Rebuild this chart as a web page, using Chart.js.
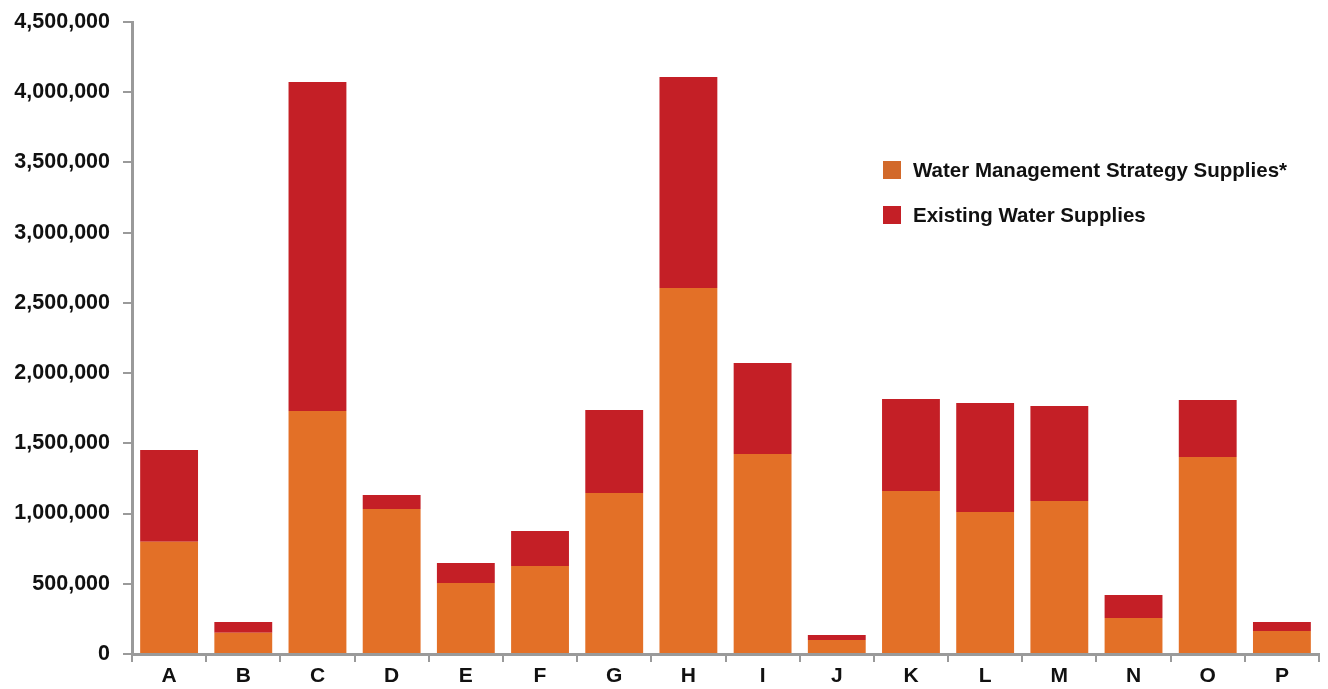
<!DOCTYPE html>
<html>
<head>
<meta charset="utf-8">
<script src="https://cdn.jsdelivr.net/npm/chart.js@4.4.1/dist/chart.umd.min.js"></script>
<style>
  html, body { margin: 0; padding: 0; background: #fff; }
  #wrap { width: 1328px; height: 689px; }
</style>
</head>
<body>
<div id="wrap"><canvas id="supplyChart"></canvas></div>
<script>
const regions = ['A', 'B', 'C', 'D', 'E', 'F', 'G', 'H', 'I', 'J', 'K', 'L', 'M', 'N', 'O', 'P'];
const strategySupplies = [800000, 152000, 1730000, 1032000, 505000, 627000, 1146000, 2606000, 1424000, 100000, 1160000, 1011000, 1089000, 256000, 1403000, 164000];
const existingSupplies = [652000, 76000, 2343000, 100000, 143000, 249000, 591000, 1502000, 648000, 35000, 656000, 776000, 677000, 164000, 405000, 64000];
const yTicks = [0, 500000, 1000000, 1500000, 2000000, 2500000, 3000000, 3500000, 4000000, 4500000];

const fontFamily = '"Liberation Sans", Arial, sans-serif';
const axisGray = '#9a9a9a';

// legend sits inside the plot, top right
const insideLegend = {
    id: 'insideLegend',
    afterDraw(chart) {
        const c = chart.ctx;
        const items = [
            { text: chart.data.datasets[0].label, color: '#d2692a', y: 170 },
            { text: chart.data.datasets[1].label, color: '#c41f26', y: 215 }
        ];
        c.save();
        c.font = 'bold 20.5px ' + fontFamily;
        c.textBaseline = 'middle';
        items.forEach(it => {
            c.fillStyle = it.color;
            c.fillRect(883, it.y - 9, 18, 18);
            c.fillStyle = '#111';
            c.fillText(it.text, 913, it.y + 1);
        });
        c.restore();
    }
};

const ctx = document.getElementById('supplyChart').getContext('2d');
const supplyChart = new Chart(ctx, {
    type: 'bar',
    data: {
        labels: regions,
        datasets: [{
            label: 'Water Management Strategy Supplies*',
            data: strategySupplies,
            backgroundColor: '#e37027'
        }, {
            label: 'Existing Water Supplies',
            data: existingSupplies,
            backgroundColor: '#c41f26'
        }]
    },
    options: {
        responsive: true,
        maintainAspectRatio: false,
        animation: false,
        layout: { padding: { top: 22, right: 9, left: 0, bottom: 0 } },
        categoryPercentage: 1,
        barPercentage: 0.78,
        plugins: {
            legend: { display: false },
            tooltip: { enabled: false }
        },
        scales: {
            x: {
                stacked: true,
                afterFit: s => { s.height = 35; s.paddingLeft = 0; s.paddingRight = 0; },
                grid: { drawOnChartArea: false, drawTicks: true, tickLength: 8, color: axisGray, lineWidth: 2 },
                border: { display: true, color: axisGray, width: 3 },
                ticks: {
                    color: '#111',
                    padding: 2,
                    font: { family: fontFamily, size: 21, weight: 'bold' }
                }
            },
            y: {
                stacked: true,
                min: 0,
                max: 4500000,
                afterFit: s => { s.width = 132; s.paddingTop = 0; s.paddingBottom = 0; },
                afterBuildTicks: s => { s.ticks = yTicks.map(v => ({ value: v })); },
                grid: { drawOnChartArea: false, drawTicks: true, tickLength: 9, color: axisGray, lineWidth: 2 },
                border: { display: true, color: axisGray, width: 3 },
                ticks: {
                    color: '#111',
                    padding: 13,
                    font: { family: fontFamily, size: 21.5, weight: 'bold' },
                    callback: v => v.toLocaleString('en-US')
                }
            }
        }
    },
    plugins: [insideLegend]
});
</script>
</body>
</html>
